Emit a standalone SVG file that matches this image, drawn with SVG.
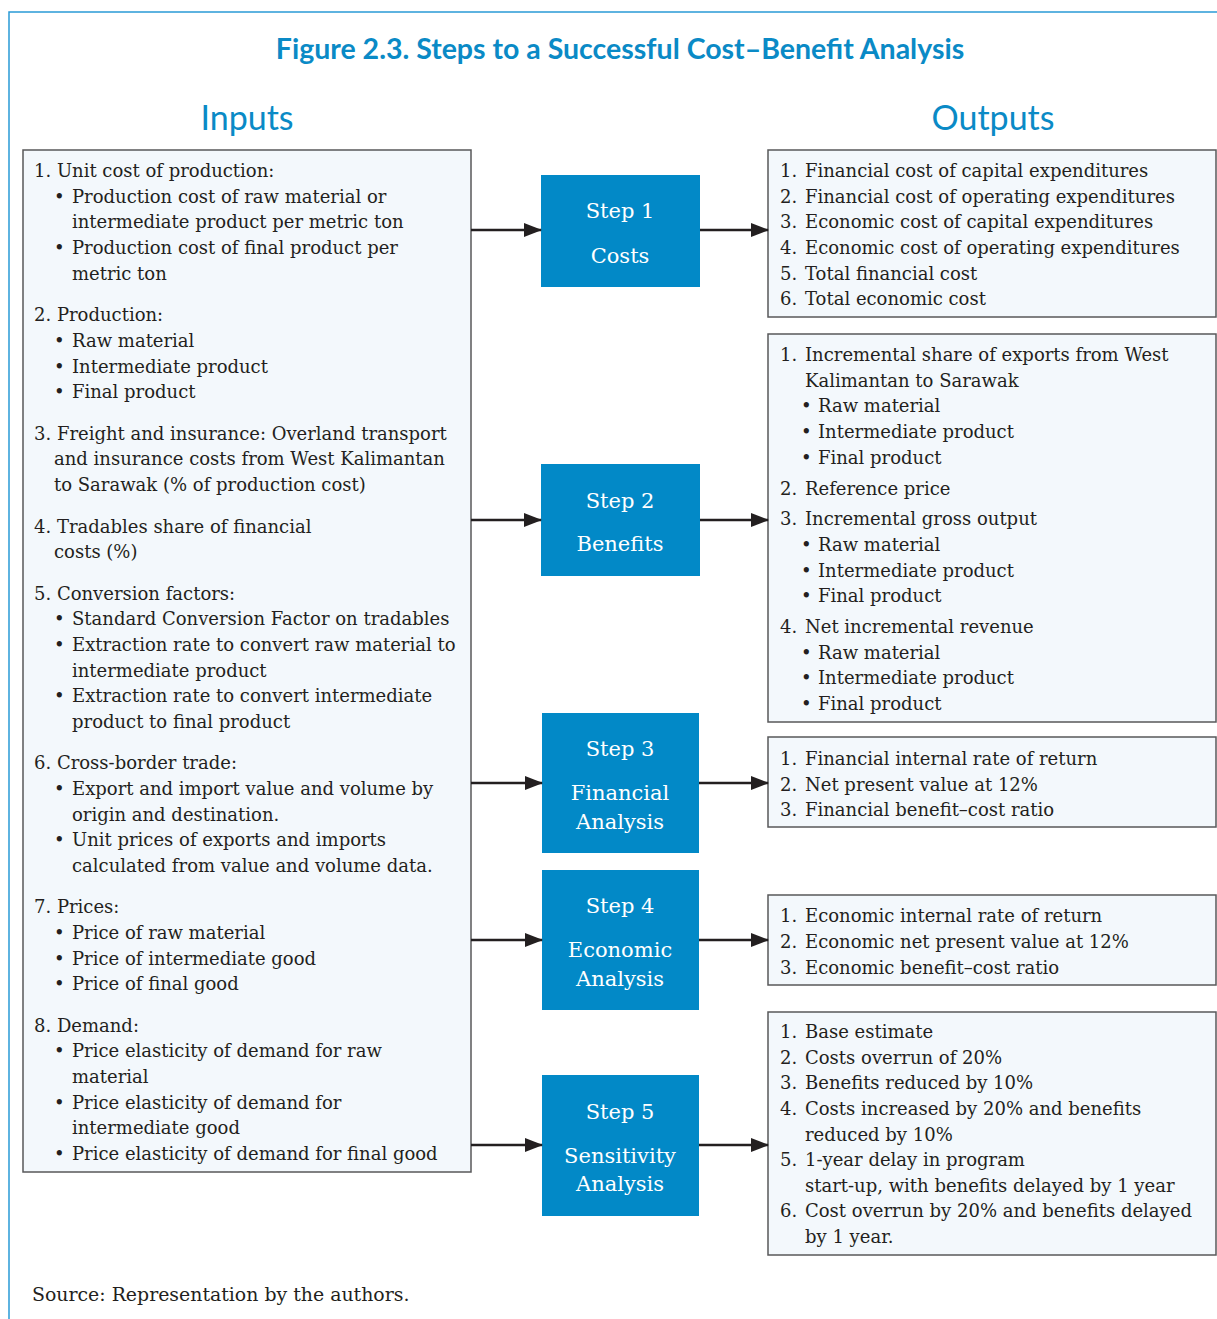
<svg xmlns="http://www.w3.org/2000/svg" width="1217" height="1319" viewBox="0 0 1217 1319">
<defs>
<style>
.t{font-family:"DejaVu Serif","Liberation Serif",serif;font-size:18px;fill:#231f20}
.src{font-size:18.9px}
.s{font-family:"DejaVu Serif","Liberation Serif",serif;font-size:21px;fill:#ffffff;text-anchor:middle}
.box{fill:#f3f8fc;stroke:#58585a;stroke-width:1.5}
.step{fill:#0289c7}
.hd{font-family:Lato,"Open Sans",sans-serif;fill:#0a8ac6;text-anchor:middle}
.c{stroke:#231f20;stroke-width:2.5;fill:none}
</style>
<marker id="ah" markerUnits="userSpaceOnUse" markerWidth="18" markerHeight="14" refX="17" refY="7" orient="auto">
<path d="M0,0 L18,7 L0,14 z" fill="#231f20"/>
</marker>
</defs>
<rect width="1217" height="1319" fill="#ffffff"/>
<path d="M9,1319 V12 H1217" fill="none" stroke="#2a9ad6" stroke-width="1.5"/>
<text class="hd" x="620" y="59" font-size="28.5" font-weight="bold">Figure 2.3. Steps to a Successful Cost–Benefit Analysis</text>
<text class="hd" x="247" y="130" font-size="34">Inputs</text>
<text class="hd" x="993" y="130" font-size="34">Outputs</text>

<g id="inputs">
<rect class="box" x="23" y="150" width="448" height="1022"/>
<text class="t">
<tspan x="34" y="177">1. Unit cost of production:</tspan>
<tspan x="54" y="203">•</tspan><tspan x="72" y="203">Production cost of raw material or</tspan>
<tspan x="72" y="228">intermediate product per metric ton</tspan>
<tspan x="54" y="254">•</tspan><tspan x="72" y="254">Production cost of final product per</tspan>
<tspan x="72" y="280">metric ton</tspan>
<tspan x="34" y="321">2. Production:</tspan>
<tspan x="54" y="347">•</tspan><tspan x="72" y="347">Raw material</tspan>
<tspan x="54" y="373">•</tspan><tspan x="72" y="373">Intermediate product</tspan>
<tspan x="54" y="398">•</tspan><tspan x="72" y="398">Final product</tspan>
<tspan x="34" y="440">3. Freight and insurance: Overland transport</tspan>
<tspan x="54" y="465">and insurance costs from West Kalimantan</tspan>
<tspan x="54" y="491">to Sarawak (% of production cost)</tspan>
<tspan x="34" y="533">4. Tradables share of financial</tspan>
<tspan x="54" y="558">costs (%)</tspan>
<tspan x="34" y="600">5. Conversion factors:</tspan>
<tspan x="54" y="625">•</tspan><tspan x="72" y="625">Standard Conversion Factor on tradables</tspan>
<tspan x="54" y="651">•</tspan><tspan x="72" y="651">Extraction rate to convert raw material to</tspan>
<tspan x="72" y="677">intermediate product</tspan>
<tspan x="54" y="702">•</tspan><tspan x="72" y="702">Extraction rate to convert intermediate</tspan>
<tspan x="72" y="728">product to final product</tspan>
<tspan x="34" y="769">6. Cross-border trade:</tspan>
<tspan x="54" y="795">•</tspan><tspan x="72" y="795">Export and import value and volume by</tspan>
<tspan x="72" y="821">origin and destination.</tspan>
<tspan x="54" y="846">•</tspan><tspan x="72" y="846">Unit prices of exports and imports</tspan>
<tspan x="72" y="872">calculated from value and volume data.</tspan>
<tspan x="34" y="913">7. Prices:</tspan>
<tspan x="54" y="939">•</tspan><tspan x="72" y="939">Price of raw material</tspan>
<tspan x="54" y="965">•</tspan><tspan x="72" y="965">Price of intermediate good</tspan>
<tspan x="54" y="990">•</tspan><tspan x="72" y="990">Price of final good</tspan>
<tspan x="34" y="1032">8. Demand:</tspan>
<tspan x="54" y="1057">•</tspan><tspan x="72" y="1057">Price elasticity of demand for raw</tspan>
<tspan x="72" y="1083">material</tspan>
<tspan x="54" y="1109">•</tspan><tspan x="72" y="1109">Price elasticity of demand for</tspan>
<tspan x="72" y="1134">intermediate good</tspan>
<tspan x="54" y="1160">•</tspan><tspan x="72" y="1160">Price elasticity of demand for final good</tspan>
</text>
</g>

<g id="step1">
<rect class="step" x="541" y="175" width="159" height="112"/>
<text class="s" x="620" y="218">Step 1</text>
<text class="s" x="620" y="263">Costs</text>
</g>
<g id="step2">
<rect class="step" x="541" y="464" width="159" height="112"/>
<text class="s" x="620" y="508">Step 2</text>
<text class="s" x="620" y="551">Benefits</text>
</g>
<g id="step3">
<rect class="step" x="542" y="713" width="157" height="140"/>
<text class="s" x="620" y="756">Step 3</text>
<text class="s" x="620" y="800">Financial</text>
<text class="s" x="620" y="829">Analysis</text>
</g>
<g id="step4">
<rect class="step" x="542" y="870" width="157" height="140"/>
<text class="s" x="620" y="913">Step 4</text>
<text class="s" x="620" y="957">Economic</text>
<text class="s" x="620" y="986">Analysis</text>
</g>
<g id="step5">
<rect class="step" x="542" y="1075" width="157" height="141"/>
<text class="s" x="620" y="1119">Step 5</text>
<text class="s" x="620" y="1163">Sensitivity</text>
<text class="s" x="620" y="1191">Analysis</text>
</g>

<g id="out1">
<rect class="box" x="768" y="150" width="448" height="167"/>
<text class="t">
<tspan x="780" y="177">1.</tspan><tspan x="805" y="177">Financial cost of capital expenditures</tspan>
<tspan x="780" y="203">2.</tspan><tspan x="805" y="203">Financial cost of operating expenditures</tspan>
<tspan x="780" y="228">3.</tspan><tspan x="805" y="228">Economic cost of capital expenditures</tspan>
<tspan x="780" y="254">4.</tspan><tspan x="805" y="254">Economic cost of operating expenditures</tspan>
<tspan x="780" y="280">5.</tspan><tspan x="805" y="280">Total financial cost</tspan>
<tspan x="780" y="305">6.</tspan><tspan x="805" y="305">Total economic cost</tspan>
</text>
</g>
<g id="out2">
<rect class="box" x="768" y="334" width="448" height="388"/>
<text class="t">
<tspan x="780" y="361">1.</tspan><tspan x="805" y="361">Incremental share of exports from West</tspan>
<tspan x="805" y="387">Kalimantan to Sarawak</tspan>
<tspan x="801" y="412">•</tspan><tspan x="818" y="412">Raw material</tspan>
<tspan x="801" y="438">•</tspan><tspan x="818" y="438">Intermediate product</tspan>
<tspan x="801" y="464">•</tspan><tspan x="818" y="464">Final product</tspan>
<tspan x="780" y="495">2.</tspan><tspan x="805" y="495">Reference price</tspan>
<tspan x="780" y="525">3.</tspan><tspan x="805" y="525">Incremental gross output</tspan>
<tspan x="801" y="551">•</tspan><tspan x="818" y="551">Raw material</tspan>
<tspan x="801" y="577">•</tspan><tspan x="818" y="577">Intermediate product</tspan>
<tspan x="801" y="602">•</tspan><tspan x="818" y="602">Final product</tspan>
<tspan x="780" y="633">4.</tspan><tspan x="805" y="633">Net incremental revenue</tspan>
<tspan x="801" y="659">•</tspan><tspan x="818" y="659">Raw material</tspan>
<tspan x="801" y="684">•</tspan><tspan x="818" y="684">Intermediate product</tspan>
<tspan x="801" y="710">•</tspan><tspan x="818" y="710">Final product</tspan>
</text>
</g>
<g id="out3">
<rect class="box" x="768" y="737" width="448" height="90"/>
<text class="t">
<tspan x="780" y="765">1.</tspan><tspan x="805" y="765">Financial internal rate of return</tspan>
<tspan x="780" y="791">2.</tspan><tspan x="805" y="791">Net present value at 12%</tspan>
<tspan x="780" y="816">3.</tspan><tspan x="805" y="816">Financial benefit–cost ratio</tspan>
</text>
</g>
<g id="out4">
<rect class="box" x="768" y="895" width="448" height="90"/>
<text class="t">
<tspan x="780" y="922">1.</tspan><tspan x="805" y="922">Economic internal rate of return</tspan>
<tspan x="780" y="948">2.</tspan><tspan x="805" y="948">Economic net present value at 12%</tspan>
<tspan x="780" y="974">3.</tspan><tspan x="805" y="974">Economic benefit–cost ratio</tspan>
</text>
</g>
<g id="out5">
<rect class="box" x="768" y="1012" width="448" height="243"/>
<text class="t">
<tspan x="780" y="1038">1.</tspan><tspan x="805" y="1038">Base estimate</tspan>
<tspan x="780" y="1064">2.</tspan><tspan x="805" y="1064">Costs overrun of 20%</tspan>
<tspan x="780" y="1089">3.</tspan><tspan x="805" y="1089">Benefits reduced by 10%</tspan>
<tspan x="780" y="1115">4.</tspan><tspan x="805" y="1115">Costs increased by 20% and benefits</tspan>
<tspan x="805" y="1141">reduced by 10%</tspan>
<tspan x="780" y="1166">5.</tspan><tspan x="805" y="1166">1-year delay in program</tspan>
<tspan x="805" y="1192">start-up, with benefits delayed by 1 year</tspan>
<tspan x="780" y="1217">6.</tspan><tspan x="805" y="1217">Cost overrun by 20% and benefits delayed</tspan>
<tspan x="805" y="1243">by 1 year.</tspan>
</text>
</g>

<g id="connectors">
<line class="c" x1="471" y1="230" x2="541" y2="230" marker-end="url(#ah)"/>
<line class="c" x1="700" y1="230" x2="768" y2="230" marker-end="url(#ah)"/>
<line class="c" x1="471" y1="520" x2="541" y2="520" marker-end="url(#ah)"/>
<line class="c" x1="700" y1="520" x2="768" y2="520" marker-end="url(#ah)"/>
<line class="c" x1="471" y1="783" x2="542" y2="783" marker-end="url(#ah)"/>
<line class="c" x1="699" y1="783" x2="768" y2="783" marker-end="url(#ah)"/>
<line class="c" x1="471" y1="940" x2="542" y2="940" marker-end="url(#ah)"/>
<line class="c" x1="699" y1="940" x2="768" y2="940" marker-end="url(#ah)"/>
<line class="c" x1="471" y1="1145" x2="542" y2="1145" marker-end="url(#ah)"/>
<line class="c" x1="699" y1="1145" x2="768" y2="1145" marker-end="url(#ah)"/>
</g>

<text class="t src" x="32" y="1301">Source: Representation by the authors.</text>
</svg>
